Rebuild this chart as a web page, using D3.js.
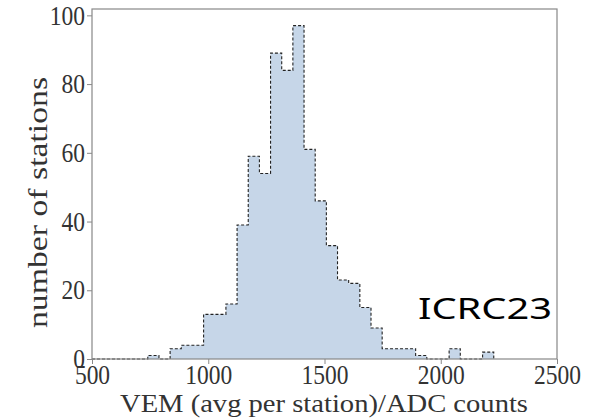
<!DOCTYPE html>
<html>
<head>
<meta charset="utf-8">
<script src="https://cdn.jsdelivr.net/npm/d3@7"></script>
<style>
  body { margin: 0; background: #fff; }
  .tick text { font-family: "Liberation Serif", serif; fill: #333; }
  .axis-label { font-family: "Liberation Serif", serif; fill: #333; }
</style>
</head>
<body>
<div id="chart"></div>
<script>
// Histogram of VEM calibration per station
const binStart = 500;
const binWidth = 48;
// counts per bin, starting at 500, 48 ADC counts wide
const counts = [0, 0, 0, 0, 0, 1, 0, 3, 4, 4, 13, 13, 16, 39, 59, 54, 89, 84, 97, 61,
  46, 33, 23, 22, 15, 9, 3, 3, 3, 1, 0, 0, 3, 0, 0, 2];
const xTicks = [500, 1000, 1500, 2000, 2500];
const yTicks = [0, 20, 40, 60, 80, 100];

const W = 590, H = 418;
const margin = { top: 9, right: 33, bottom: 59, left: 92 };
const width = W - margin.left - margin.right;
const height = H - margin.top - margin.bottom;

const bins = counts.map((c, i) => ({ x0: binStart + i * binWidth, x1: binStart + (i + 1) * binWidth, n: c }));

const svg = d3.select('#chart').append('svg')
  .attr('width', W)
  .attr('height', H);

const g = svg.append('g')
  .attr('transform', `translate(${margin.left},${margin.top})`);

const x = d3.scaleLinear().domain([500, 2500]).range([0, width]);
const y = d3.scaleLinear().domain([0, d3.max(counts) * 1.05]).range([height, 0]);

// step outline points
const pts = [[bins[0].x0, 0]];
bins.forEach(b => { pts.push([b.x0, b.n]); pts.push([b.x1, b.n]); });
pts.push([bins[bins.length - 1].x1, 0]);

const line = d3.line().x(d => x(d[0])).y(d => y(d[1]));

g.append('path')
  .attr('d', line(pts) + 'Z')
  .style('fill', '#c6d6e8')
  .style('stroke', 'none');

g.append('path')
  .attr('d', line(pts))
  .style('fill', 'none')
  .style('stroke', '#222')
  .style('stroke-width', 1.1)
  .style('stroke-dasharray', '3,2');

// axes
const xAxis = d3.axisBottom(x).tickValues(xTicks).tickFormat(d3.format('d'))
  .tickSize(5).tickSizeOuter(0).tickPadding(1);
const yAxis = d3.axisLeft(y).tickValues(yTicks).tickFormat(d3.format('d'))
  .tickSize(5).tickSizeOuter(0).tickPadding(3);

const gx = g.append('g').attr('transform', `translate(0,${height})`).call(xAxis);
const gy = g.append('g').call(yAxis);

[gx, gy].forEach(a => {
  a.select('.domain').remove();
  a.selectAll('.tick line').style('stroke', '#888');
  a.selectAll('.tick text')
    .style('font-size', '27px')
    .attr('transform', 'scale(0.87,1)');
});

// frame
g.append('rect')
  .attr('width', width)
  .attr('height', height)
  .style('fill', 'none')
  .style('stroke', '#888')
  .style('stroke-width', 1.2);

// axis labels
svg.append('text')
  .attr('class', 'axis-label')
  .attr('x', 120)
  .attr('y', 412)
  .attr('textLength', 408)
  .attr('lengthAdjust', 'spacingAndGlyphs')
  .style('font-size', '26px')
  .text('VEM (avg per station)/ADC counts');

svg.append('text')
  .attr('class', 'axis-label')
  .attr('transform', 'translate(47,328) rotate(-90) scale(1.25,1)')
  .style('font-size', '27px')
  .text('number of stations');

// watermark
svg.append('text')
  .attr('x', 418)
  .attr('y', 319)
  .attr('textLength', 134)
  .attr('lengthAdjust', 'spacingAndGlyphs')
  .style('font-family', '"Noto Sans", sans-serif')
  .style('font-size', '29.5px')
  .style('fill', '#000')
  .text('ICRC23');
</script>
</body>
</html>
